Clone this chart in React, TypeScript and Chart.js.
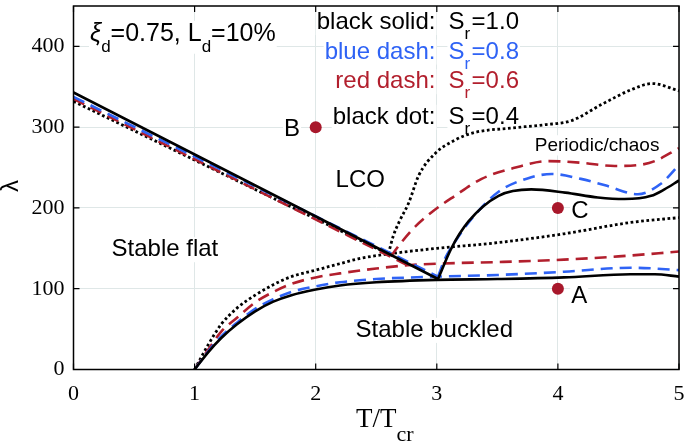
import React, { useEffect, useRef } from "react";
import { Chart, registerables } from "chart.js";

Chart.register(...registerables);

// ---------- axes ----------
const xTicks = [0, 1, 2, 3, 4, 5];
const yTicks = [0, 100, 200, 300, 400];
const xMin = 0;
const xMax = 5;
const yMin = 0;
const yMax = 450;

// ---------- S_r = 1.0 (black solid) ----------
const s10FlatT = [0, 3.01];
const s10FlatL = [343, 112];
const s10BuckT = [1, 1.11, 1.22, 1.35, 1.5, 1.65, 1.8, 2, 2.2, 2.5, 3, 3.5, 4.05, 4.6, 4.8, 5];
const s10BuckL = [0, 21, 39, 56, 72, 84, 92, 99, 104, 108, 111, 112, 114, 118, 118, 115];
const s10LcoT = [3.01, 3.12, 3.26, 3.51, 3.78, 4.06, 4.33, 4.55, 4.77, 4.88, 5];
const s10LcoL = [112, 150, 183, 215, 223, 219, 213, 211, 215, 223, 234];

// ---------- S_r = 0.8 (blue dash) ----------
const s08FlatT = [0, 3.01];
const s08FlatL = [337.5, 115];
const s08BuckT = [1, 1.11, 1.22, 1.35, 1.5, 1.65, 1.8, 2, 2.2, 2.5, 3, 3.5, 4.05, 4.6, 4.8, 5];
const s08BuckL = [0, 22, 41, 58, 75, 87, 96, 103, 108, 112, 115, 117, 121, 126, 125, 123];
const s08LcoT = [3.01, 3.07, 3.15, 3.29, 3.51, 3.78, 3.95, 4.19, 4.39, 4.66, 4.85, 5];
const s08LcoL = [115, 138, 158, 187, 220, 238, 242, 236, 228, 217, 230, 253];

// ---------- S_r = 0.6 (red dash) ----------
const s06FlatT = [0, 2.76];
const s06FlatL = [335, 129];
const s06BuckT = [1, 1.11, 1.22, 1.35, 1.5, 1.65, 1.8, 2, 2.2, 2.5, 2.76, 3, 3.5, 4.05, 4.5, 5];
const s06BuckL = [0, 24, 47, 64, 83, 96, 106, 114, 119, 125, 129, 131, 133, 136, 140, 146];
const s06LcoT = [2.62, 2.68, 2.79, 2.96, 3.15, 3.37, 3.65, 3.92, 4.19, 4.47, 4.66, 4.8, 5];
const s06LcoL = [140, 152, 172, 195, 215, 236, 250, 258, 256, 252, 253, 258, 274];

// ---------- S_r = 0.4 (black dot) ----------
const s04FlatT = [0, 2.6];
const s04FlatL = [332, 143];
const s04BuckT = [1, 1.11, 1.22, 1.35, 1.5, 1.65, 1.8, 2, 2.2, 2.35, 2.6, 3, 3.5, 4.05, 4.6, 5];
const s04BuckL = [0, 30, 56, 76, 92, 105, 115, 123, 131, 137, 143, 150, 157, 168, 182, 188];
const s04LcoT = [2.6, 2.64, 2.69, 2.77, 2.85, 2.99, 3.15, 3.3, 3.62, 3.89, 4.11, 4.36, 4.6, 4.78, 5];
const s04LcoL = [143, 165, 183, 207, 240, 268, 284, 293, 299, 303, 308, 328, 346, 354, 345];

// ---------- marked cases ----------
const caseT = [2, 4, 4];
const caseL = [300, 200, 100];
const caseNames = ["B", "C", "A"];

// ---------- text ----------
const legendNames = ["black solid:", "blue dash:", "red dash:", "black dot:"];
const legendSr = ["1.0", "0.8", "0.6", "0.4"];
const regionNames = ["Stable flat", "LCO", "Stable buckled"];
const chaosName = "Periodic/chaos";

// ---------- styles ----------
const BLACK = "#000000";
const BLUE = "#2f63f5";
const RED = "#b21f2d";
const DOT_RED = "#a8182b";
const GRID = "#dfe7e7";
const SANS = "'Liberation Sans', Arial, sans-serif";
const SERIF = "'Liberation Serif', 'Times New Roman', serif";

const pts = (t: number[], l: number[]) => t.map((v, i) => ({ x: v, y: l[i] }));

const lineDs = (t: number[], l: number[], color: string, dash: number[], width = 2.5) => ({
  type: "line" as const,
  data: pts(t, l),
  borderColor: color,
  borderWidth: width,
  borderDash: dash,
  borderCapStyle: "butt" as const,
  pointRadius: 0,
  fill: false,
  cubicInterpolationMode: "monotone" as const,
});

type Part = { t?: string; sub?: boolean; it?: boolean; gap?: number };
type Run = { x: number; y: number; parts: Part[]; size: number; fam: string; color: string; subDy: number; subSize: number };

function partFont(p: Part, r: Run) {
  const s = p.sub ? r.subSize : r.size;
  return `${p.it ? "italic " : ""}${s}px ${r.fam}`;
}
function runWidth(ctx: CanvasRenderingContext2D, r: Run) {
  let w = 0;
  for (const p of r.parts) {
    if (p.gap) { w += p.gap; continue; }
    ctx.font = partFont(p, r);
    w += ctx.measureText(p.t || "").width;
  }
  return w;
}
function drawRun(ctx: CanvasRenderingContext2D, r: Run) {
  ctx.save();
  ctx.fillStyle = r.color;
  ctx.textAlign = "left";
  ctx.textBaseline = "alphabetic";
  let cx = r.x;
  for (const p of r.parts) {
    if (p.gap) { cx += p.gap; continue; }
    ctx.font = partFont(p, r);
    ctx.fillText(p.t || "", cx, r.y + (p.sub ? r.subDy : 0));
    cx += ctx.measureText(p.t || "").width;
  }
  ctx.restore();
}
function boxRun(ctx: CanvasRenderingContext2D, r: Run) {
  const w = runWidth(ctx, r);
  const hasSub = r.parts.some((p) => p.sub);
  const top = r.y - r.size * 0.76;
  const bot = r.y + (hasSub ? r.subDy + 1 : r.size * 0.2);
  ctx.save();
  ctx.fillStyle = "#ffffff";
  ctx.fillRect(r.x - 1, top - 1, w + 2, bot - top + 2);
  ctx.restore();
}

function buildRuns(chart: any): Run[] {
  const xs = chart.scales.x;
  const ys = chart.scales.y;
  const ctx: CanvasRenderingContext2D = chart.ctx;
  const X = (v: number) => xs.getPixelForValue(v);
  const Y = (v: number) => ys.getPixelForValue(v);
  const runs: Run[] = [];
  const base = { size: 24, fam: SANS, subDy: 11, subSize: 17 };

  runs.push({
    ...base, size: 25, x: X(0.136), y: Y(407), color: BLACK,
    parts: [{ t: "ξ", it: true }, { t: "d", sub: true }, { t: "=0.75, L" }, { t: "d", sub: true }, { t: "=10%" }],
  });

  const legendL = [421.3, 384.6, 347.9, 303.9];
  const legendColors = [BLACK, BLUE, RED, BLACK];
  const sX = X(3.096);
  legendNames.forEach((name, i) => {
    const pre: Run = { ...base, x: 0, y: Y(legendL[i]), color: legendColors[i], parts: [{ t: name }] };
    pre.x = sX - 13 - runWidth(ctx, pre);
    runs.push(pre);
    runs.push({
      ...base, x: sX, y: Y(legendL[i]), color: legendColors[i], subDy: 10, subSize: 17,
      parts: [{ t: "S" }, { t: "r", sub: true }, { gap: 1.5 }, { t: "=" + legendSr[i] }],
    });
  });

  const regionT = [0.314, 2.164, 2.329];
  const regionL = [140, 225.6, 40.1];
  regionNames.forEach((name, i) => {
    runs.push({ ...base, x: X(regionT[i]), y: Y(regionL[i]), color: BLACK, parts: [{ t: name }] });
  });
  runs.push({ ...base, size: 19, x: X(3.809), y: Y(270.9), color: BLACK, parts: [{ t: chaosName }] });

  const dx = [-15.6, 13.3, 13.3];
  const dy = [9, 10, 14];
  caseNames.forEach((name, i) => {
    const r: Run = { ...base, size: 24, x: 0, y: Y(caseL[i]) + dy[i], color: BLACK, parts: [{ t: name }] };
    const w = runWidth(ctx, r);
    r.x = dx[i] < 0 ? X(caseT[i]) + dx[i] - w : X(caseT[i]) + dx[i];
    runs.push(r);
  });
  return runs;
}

const frameAndText = {
  id: "frameAndText",
  beforeDatasetsDraw(chart: any) {
    const ctx: CanvasRenderingContext2D = chart.ctx;
    for (const r of buildRuns(chart)) boxRun(ctx, r);
  },
  afterDatasetsDraw(chart: any) {
    const ctx: CanvasRenderingContext2D = chart.ctx;
    const a = chart.chartArea;
    const xs = chart.scales.x;
    const ys = chart.scales.y;
    ctx.save();
    ctx.strokeStyle = BLACK;
    ctx.lineWidth = 1.2;
    const tl = 6;
    ctx.beginPath();
    xTicks.forEach((v) => {
      const px = xs.getPixelForValue(v);
      ctx.moveTo(px, a.bottom); ctx.lineTo(px, a.bottom - tl);
      ctx.moveTo(px, a.top); ctx.lineTo(px, a.top + tl);
    });
    yTicks.forEach((v) => {
      const py = ys.getPixelForValue(v);
      ctx.moveTo(a.left, py); ctx.lineTo(a.left + tl, py);
      ctx.moveTo(a.right, py); ctx.lineTo(a.right - tl, py);
    });
    ctx.stroke();
    ctx.lineWidth = 1.5;
    ctx.strokeRect(a.left, a.top, a.right - a.left, a.bottom - a.top);
    ctx.restore();

    for (const r of buildRuns(chart)) drawRun(ctx, r);

    ctx.save();
    ctx.fillStyle = BLACK;
    const cx = (a.left + a.right) / 2;
    const tRun: Run = { x: 0, y: 427, size: 27, fam: SERIF, color: BLACK, subDy: 14, subSize: 22, parts: [{ t: "T/T" }] };
    const mainW = runWidth(ctx, tRun);
    tRun.x = cx - mainW / 2;
    tRun.parts = [{ t: "T/T" }, { t: "cr", sub: true }];
    drawRun(ctx, tRun);

    ctx.translate(11, 186);
    ctx.rotate(-Math.PI / 2);
    ctx.font = `24px ${SANS}`;
    ctx.textAlign = "center";
    ctx.textBaseline = "middle";
    ctx.fillStyle = BLACK;
    ctx.fillText("λ", 0, 0);
    ctx.restore();
  },
};

export default function App() {
  const ref = useRef<HTMLCanvasElement>(null);
  useEffect(() => {
    document.body.style.margin = "0";
    const canvas = ref.current;
    if (!canvas) return;
    const datasets: any[] = [
      {
        type: "scatter",
        data: pts(caseT, caseL),
        backgroundColor: DOT_RED,
        borderColor: DOT_RED,
        pointRadius: 6,
        pointBorderWidth: 0,
        showLine: false,
      },
      lineDs(s10FlatT, s10FlatL, BLACK, [], 2.6),
      lineDs(s10BuckT, s10BuckL, BLACK, [], 2.6),
      lineDs(s10LcoT, s10LcoL, BLACK, [], 2.6),
      lineDs(s08FlatT, s08FlatL, BLUE, [12, 7], 2.6),
      lineDs(s08BuckT, s08BuckL, BLUE, [12, 7], 2.6),
      lineDs(s08LcoT, s08LcoL, BLUE, [12, 7], 2.6),
      lineDs(s06FlatT, s06FlatL, RED, [12, 7], 2.6),
      lineDs(s06BuckT, s06BuckL, RED, [12, 7], 2.6),
      lineDs(s06LcoT, s06LcoL, RED, [12, 7], 2.6),
      lineDs(s04FlatT, s04FlatL, BLACK, [2.7, 2.6], 2.8),
      lineDs(s04BuckT, s04BuckL, BLACK, [2.7, 2.6], 2.8),
      lineDs(s04LcoT, s04LcoL, BLACK, [2.7, 2.6], 2.8),
    ];
    const chart = new Chart(canvas, {
      type: "line",
      data: { datasets },
      options: {
        responsive: false,
        animation: false,
        devicePixelRatio: 1,
        layout: { padding: { left: 0, right: 3.5, top: 1.5, bottom: 0 } },
        plugins: { legend: { display: false }, tooltip: { enabled: false } },
        scales: {
          x: {
            type: "linear",
            min: xMin,
            max: xMax,
            afterFit: (s: any) => { s.height = 77.5; s.paddingLeft = 0; s.paddingRight = 0; },
            afterBuildTicks: (ax: any) => { ax.ticks = xTicks.map((v) => ({ value: v })); },
            grid: { color: GRID, lineWidth: 1, drawTicks: false },
            border: { display: false },
            ticks: { color: BLACK, font: { family: SERIF, size: 22 }, padding: 12, maxRotation: 0, autoSkip: false },
          },
          y: {
            type: "linear",
            min: yMin,
            max: yMax,
            afterFit: (s: any) => { s.width = 73.5; s.paddingTop = 0; s.paddingBottom = 0; },
            afterBuildTicks: (ax: any) => { ax.ticks = yTicks.map((v) => ({ value: v })); },
            grid: { color: GRID, lineWidth: 1, drawTicks: false },
            border: { display: false },
            ticks: { color: BLACK, font: { family: SERIF, size: 22 }, padding: 9, autoSkip: false },
          },
        },
      } as any,
      plugins: [frameAndText],
    });
    return () => chart.destroy();
  }, []);
  return (
    <div style={{ width: 685, height: 447 }}>
      <canvas ref={ref} width={685} height={447} style={{ display: "block" }} />
    </div>
  );
}
